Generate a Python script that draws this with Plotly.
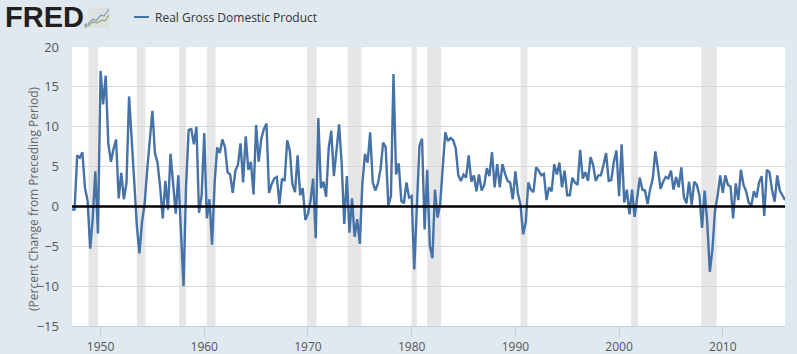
import pandas as pd
import plotly.graph_objects as go

W, H = 797, 354
M = dict(l=72, r=12, t=47, b=28)

SERIES_NAME = "Real Gross Domestic Product"
Y_TITLE = "(Percent Change from Preceding Period)"
START_QUARTER = "1947-04-01"

gdp_1947_1959 = [
    -0.4, -0.4, 6.4,
    6.1, 6.8, 2.3, 0.7,
    -5.3, -1.4, 4.4, -3.4,
    17.0, 12.8, 16.4, 7.9,
    5.6, 7.2, 8.4, 1.0,
    4.2, 0.9, 2.9, 13.8,
    7.7, 3.1, -2.4, -5.9,
    -1.9, 0.3, 4.6, 8.2,
    12.0, 6.7, 5.5, 2.4,
    -1.5, 3.2, -0.4, 6.6,
    2.6, -0.9, 3.9, -4.1,
    -10.0, 2.6, 9.6, 9.7,
    7.8, 10.0, -0.8, 1.4,
]
gdp_1960_1969 = [
    9.2, -1.5, 0.9, -4.8,
    3.0, 7.4, 6.7, 8.4,
    7.4, 4.3, 4.0, 1.7,
    4.5, 5.2, 7.9, 3.0,
    8.8, 4.6, 5.6, 1.5,
    10.2, 5.6, 8.5, 9.7,
    10.4, 1.7, 2.8, 3.5,
    3.7, 0.3, 3.5, 3.2,
    8.3, 7.0, 2.8, 1.8,
    6.4, 1.4, 2.3, -1.7,
]
gdp_1970_1979 = [
    -0.9, 0.7, 3.5, -4.0,
    11.1, 2.3, 3.1, 1.2,
    7.3, 9.5, 3.8, 7.0,
    10.3, 5.4, -2.2, 3.8,
    -3.3, 1.0, -3.8, -1.6,
    -4.7, 2.9, 6.6, 5.5,
    9.3, 3.0, 2.0, 2.9,
    4.7, 8.0, 7.4, 0.1,
    1.3, 16.6, 4.0, 5.4,
    0.7, 0.4, 3.0, 1.1,
]
gdp_1980_1989 = [
    1.3, -7.9, -0.5, 7.6,
    8.5, -2.9, 4.6, -4.9,
    -6.5, 2.1, -1.4, 0.3,
    5.0, 9.3, 8.2, 8.6,
    8.3, 7.3, 3.9, 3.2,
    4.0, 3.6, 6.4, 3.1,
    3.9, 1.9, 4.0, 2.0,
    2.7, 4.8, 3.8, 6.8,
    2.4, 5.3, 2.4, 5.3,
    4.1, 3.2, 3.0, 0.9,
]
gdp_1990_1999 = [
    4.4, 1.6, 0.2, -3.5,
    -2.0, 3.0, 2.1, 1.8,
    4.9, 4.5, 3.9, 4.1,
    0.8, 2.4, 1.9, 5.3,
    4.0, 5.5, 2.4, 4.5,
    1.4, 1.4, 3.6, 3.0,
    2.7, 7.1, 3.5, 4.3,
    3.2, 6.2, 5.2, 3.2,
    3.9, 3.9, 5.2, 6.7,
    3.2, 3.3, 5.6, 7.0,
]
gdp_2000_2016 = [
    1.3, 7.8, 0.5, 2.1,
    -1.0, 2.1, -1.3, 1.4,
    3.6, 2.1, 2.0, 0.3,
    2.2, 3.5, 6.9, 4.7,
    2.2, 3.1, 3.7, 3.5,
    4.5, 2.1, 3.7, 2.4,
    4.9, 1.2, 0.4, 3.1,
    0.2, 3.1, 2.7, 1.4,
    -2.7, 2.0, -1.9, -8.2,
    -5.4, -0.5, 1.3, 3.9,
    1.7, 3.9, 2.7, 2.5,
    -1.5, 2.9, 0.8, 4.6,
    2.7, 1.9, 0.5, 0.1,
    1.9, 1.1, 3.0, 3.8,
    -1.2, 4.6, 4.3, 2.1,
    0.6, 3.9, 2.0, 1.4,
    0.8,
]
gdp_values = (gdp_1947_1959 + gdp_1960_1969 + gdp_1970_1979
              + gdp_1980_1989 + gdp_1990_1999 + gdp_2000_2016)

recession_starts = ["1948-11-01", "1953-07-01", "1957-08-01", "1960-04-01",
                    "1969-12-01", "1973-11-01", "1980-01-01", "1981-07-01",
                    "1990-07-01", "2001-03-01", "2007-12-01"]
recession_ends = ["1949-10-01", "1954-05-01", "1958-04-01", "1961-02-01",
                  "1970-11-01", "1975-03-01", "1980-07-01", "1982-11-01",
                  "1991-03-01", "2001-11-01", "2009-06-01"]

dates = pd.date_range(START_QUARTER, periods=len(gdp_values), freq="QS")

PW = W - M["l"] - M["r"]
PH = H - M["t"] - M["b"]
def px(x): return (x - M["l"]) / PW
def py(y): return 1 - (y - M["t"]) / PH

fig = go.Figure(go.Scatter(x=dates, y=gdp_values, mode="lines", name=SERIES_NAME,
                           line=dict(color="#4572A7", width=2.4), showlegend=False))

shapes = []
for s, e in zip(recession_starts, recession_ends):
    shapes.append(dict(type="rect", xref="x", yref="paper", x0=s, x1=e, y0=0, y1=1,
                       fillcolor="#E6E6E6", line_width=0, layer="below"))
shapes.append(dict(type="line", xref="paper", yref="y", x0=0, x1=1, y0=0, y1=0,
                   line=dict(color="#000000", width=2.5), layer="above"))
# legend sample
shapes.append(dict(type="line", xref="paper", yref="paper",
                   x0=px(134), x1=px(149), y0=py(17), y1=py(17),
                   line=dict(color="#4572A7", width=2)))
# logo icon
shapes.append(dict(type="rect", xref="paper", yref="paper",
                   x0=px(88), x1=px(110), y0=py(28), y1=py(8),
                   fillcolor="#DDE1E2", line_width=0))
def path(pts):
    return "M " + " L ".join(f"{px(a):.5f},{py(b):.5f}" for a, b in pts)
shapes.append(dict(type="path", xref="paper", yref="paper",
                   path=path([(88, 24), (93, 19), (96, 21), (101, 15), (104, 16), (109, 9)]),
                   line=dict(color="#7F9DB5", width=1.2)))
shapes.append(dict(type="path", xref="paper", yref="paper",
                   path=path([(88, 26), (93, 22), (97, 23), (102, 20), (105, 21), (109, 15)]),
                   line=dict(color="#8DAA6B", width=1.2)))

annotations = [
    dict(text="<b>FRED</b>", x=px(3), y=py(17), xref="paper", yref="paper",
         xanchor="left", yanchor="middle", showarrow=False,
         font=dict(family="Liberation Sans", size=29, color="#231F20")),
    dict(text="®", x=px(82), y=py(26), xref="paper", yref="paper",
         xanchor="left", yanchor="middle", showarrow=False,
         font=dict(family="Liberation Sans", size=5, color="#231F20")),
    dict(text=SERIES_NAME, x=px(153), y=py(17), xref="paper", yref="paper",
         xanchor="left", yanchor="middle", showarrow=False,
         font=dict(family="Open Sans", size=12, color="#333333")),
    dict(text=Y_TITLE, x=px(33), y=py(199), xref="paper", yref="paper",
         xanchor="center", yanchor="middle", showarrow=False, textangle=-90,
         font=dict(family="Open Sans", size=12, color="#666666")),
]

fig.update_layout(
    width=W, height=H, margin=M, autosize=False,
    paper_bgcolor="#E1E9F0", plot_bgcolor="#FFFFFF",
    font=dict(family="Open Sans", size=12, color="#555555"),
    shapes=shapes, annotations=annotations,
    xaxis=dict(type="date", range=[dates[0], dates[-1]], tick0="1950-01-01",
               dtick="M120", tickformat="%Y", ticks="outside", ticklen=10,
               tickcolor="#C0D0E0", showgrid=False, showline=True, automargin=False,
               linecolor="#C0D0E0", linewidth=1, zeroline=False),
    yaxis=dict(range=[-15, 20], dtick=5, tick0=0, showgrid=True, gridcolor="#D8D8D8",
               gridwidth=1, zeroline=False, ticks="", ticklabelstandoff=12, automargin=False,
               tickfont=dict(size=13)),
)
fig.write_html("out.html", config={"displayModeBar": False},
               post_script="document.body.style.margin='0';")
